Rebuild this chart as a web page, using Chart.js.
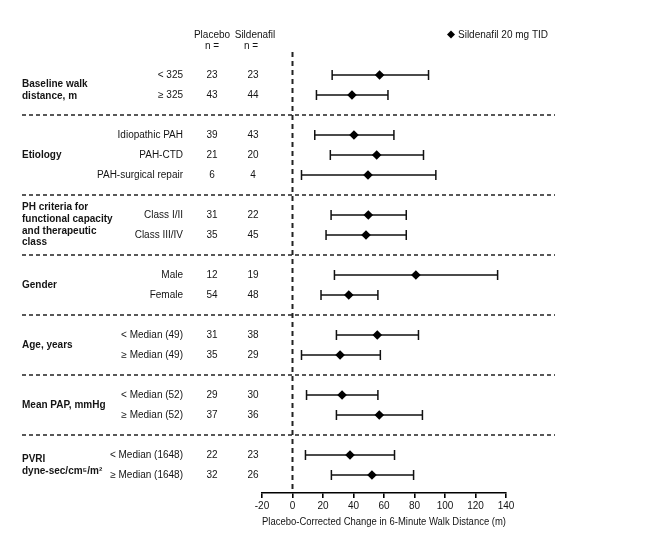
<!DOCTYPE html>
<html>
<head>
<meta charset="utf-8">
<script src="https://cdn.jsdelivr.net/npm/chart.js@4"></script>
<style>
  html, body { margin: 0; padding: 0; background: #fff; }
  #wrap { width: 655px; height: 534px; }
</style>
</head>
<body>
<div id="wrap"><canvas id="forest"></canvas></div>
<script>
const groups = ['Baseline walk\ndistance, m', 'Etiology', 'PH criteria for\nfunctional capacity\nand therapeutic\nclass', 'Gender', 'Age, years', 'Mean PAP, mmHg', 'PVRI\ndyne-sec/cm\u2075/m\u00b2'];
const groupSizes = [2, 3, 2, 2, 2, 2, 2];
const subgroups = ['< 325', '\u2265 325', 'Idiopathic PAH', 'PAH-CTD', 'PAH-surgical repair', 'Class I/II', 'Class III/IV', 'Male', 'Female', '< Median (49)', '\u2265 Median (49)', '< Median (52)', '\u2265 Median (52)', '< Median (1648)', '\u2265 Median (1648)'];
const placeboN = [23, 43, 39, 21, 6, 31, 35, 12, 54, 31, 35, 29, 37, 22, 32];
const sildenafilN = [23, 44, 43, 20, 4, 22, 45, 19, 48, 38, 29, 30, 36, 23, 26];
const estimate = [57.1, 39, 40.3, 55.2, 49.5, 49.7, 48.2, 80.9, 36.9, 55.6, 31.2, 32.5, 56.9, 37.7, 52.1];
const lower = [26, 15.7, 14.6, 24.8, 5.9, 25.3, 22, 27.5, 18.7, 28.8, 5.9, 9.2, 28.8, 8.5, 25.5];
const upper = [89.2, 62.6, 66.5, 85.9, 94, 74.6, 74.6, 134.5, 56, 82.6, 57.6, 56, 85.2, 66.9, 79.4];
const xTicks = [-20, 0, 20, 40, 60, 80, 100, 120, 140];
const seriesName = 'Sildenafil 20 mg TID';
const xTitle = 'Placebo-Corrected Change in 6-Minute Walk Distance (m)';

// row slots: each subgroup takes one slot, one empty slot between groups for the divider
const rowPos = [];
const groupRows = [];
const dividers = [];
let slot = 0;
groupSizes.forEach((n, g) => {
  const rows = [];
  for (let k = 0; k < n; k++) { rowPos.push(slot); rows.push(slot); slot++; }
  groupRows.push(rows);
  if (g < groupSizes.length - 1) { dividers.push(slot); slot++; }
});

const FONT = '"Liberation Sans", Arial, Helvetica, sans-serif';
const INK = '#141414';

const forestPlugin = {
  id: 'forest',
  beforeDatasetsDraw(chart) {
    const { ctx, chartArea, scales: { x, y } } = chart;
    ctx.save();
    // dashed zero line
    ctx.strokeStyle = '#222';
    ctx.lineWidth = 2;
    ctx.setLineDash([5, 4]);
    const x0 = x.getPixelForValue(0);
    ctx.beginPath();
    ctx.moveTo(x0, chartArea.top);
    ctx.lineTo(x0, chartArea.bottom);
    ctx.stroke();
    // group dividers
    ctx.lineWidth = 1.4;
    ctx.setLineDash([4, 3]);
    dividers.forEach(d => {
      const py = y.getPixelForValue(d);
      ctx.beginPath();
      ctx.moveTo(22, py);
      ctx.lineTo(555, py);
      ctx.stroke();
    });
    // confidence intervals
    ctx.setLineDash([]);
    ctx.strokeStyle = '#111';
    ctx.lineWidth = 1.5;
    rowPos.forEach((r, i) => {
      const py = y.getPixelForValue(r);
      const a = x.getPixelForValue(lower[i]);
      const b = x.getPixelForValue(upper[i]);
      ctx.beginPath();
      ctx.moveTo(a, py); ctx.lineTo(b, py);
      ctx.moveTo(a, py - 5); ctx.lineTo(a, py + 5);
      ctx.moveTo(b, py - 5); ctx.lineTo(b, py + 5);
      ctx.stroke();
    });
    ctx.restore();
  },
  afterDraw(chart) {
    const { ctx, scales: { y } } = chart;
    ctx.save();
    ctx.fillStyle = INK;
    ctx.textBaseline = 'middle';
    // column headers
    ctx.font = '10px ' + FONT;
    ctx.textAlign = 'center';
    ctx.fillText('Placebo', 212, 35);
    ctx.fillText('n =', 212, 46);
    ctx.fillText('Sildenafil', 255, 35);
    ctx.fillText('n =', 251, 46);
    // rows
    rowPos.forEach((r, i) => {
      const py = y.getPixelForValue(r);
      ctx.textAlign = 'right';
      ctx.fillText(subgroups[i], 183, py);
      ctx.textAlign = 'center';
      ctx.fillText(String(placeboN[i]), 212, py);
      ctx.fillText(String(sildenafilN[i]), 253, py);
    });
    // group labels
    ctx.font = 'bold 10px ' + FONT;
    ctx.textAlign = 'left';
    groups.forEach((g, gi) => {
      const rows = groupRows[gi];
      const mid = (y.getPixelForValue(rows[0]) + y.getPixelForValue(rows[rows.length - 1])) / 2;
      const lines = g.split('\n');
      const lh = 11.7;
      // first group label sits a little lower in the original
      const shift = gi === 0 ? 5.5 : 0;
      lines.forEach((ln, k) => {
        ctx.fillText(ln, 22, mid + shift + (k - (lines.length - 1) / 2) * lh);
      });
    });
    // legend
    ctx.fillStyle = '#000';
    ctx.beginPath();
    ctx.moveTo(451, 30.5); ctx.lineTo(455, 34.5); ctx.lineTo(451, 38.5); ctx.lineTo(447, 34.5);
    ctx.closePath();
    ctx.fill();
    ctx.fillStyle = INK;
    ctx.font = '10px ' + FONT;
    ctx.textAlign = 'left';
    ctx.fillText(chart.data.datasets[0].label, 458, 35);
    ctx.restore();
  }
};

new Chart(document.getElementById('forest'), {
  type: 'scatter',
  data: {
    datasets: [{
      label: seriesName,
      data: estimate.map((v, i) => ({ x: v, y: rowPos[i] })),
      pointStyle: 'rectRot',
      pointRadius: 4.8,
      pointHoverRadius: 4.8,
      backgroundColor: '#000',
      borderColor: '#000',
      borderWidth: 0
    }]
  },
  options: {
    responsive: true,
    maintainAspectRatio: false,
    animation: false,
    layout: { padding: { left: 262, right: 149, top: 52, bottom: 0 } },
    plugins: {
      legend: { display: false },
      tooltip: { enabled: false }
    },
    scales: {
      x: {
        type: 'linear',
        min: xTicks[0],
        max: xTicks[xTicks.length - 1],
        afterBuildTicks: axis => { axis.ticks = xTicks.map(v => ({ value: v })); },
        afterFit: axis => { axis.height = 41; },
        border: { color: '#000', width: 1.6 },
        grid: { drawOnChartArea: false, drawTicks: true, tickLength: 5, color: '#000', lineWidth: 1.6 },
        ticks: { color: INK, font: { family: FONT, size: 10 }, padding: 2 },
        title: { display: true, text: xTitle, color: INK, font: { family: FONT, size: 10 }, padding: { top: 4, bottom: 6 } }
      },
      y: {
        type: 'linear',
        reverse: true,
        min: -1.15,
        max: slot - 1 + 0.9,
        display: false
      }
    }
  },
  plugins: [forestPlugin]
});
</script>
</body>
</html>
